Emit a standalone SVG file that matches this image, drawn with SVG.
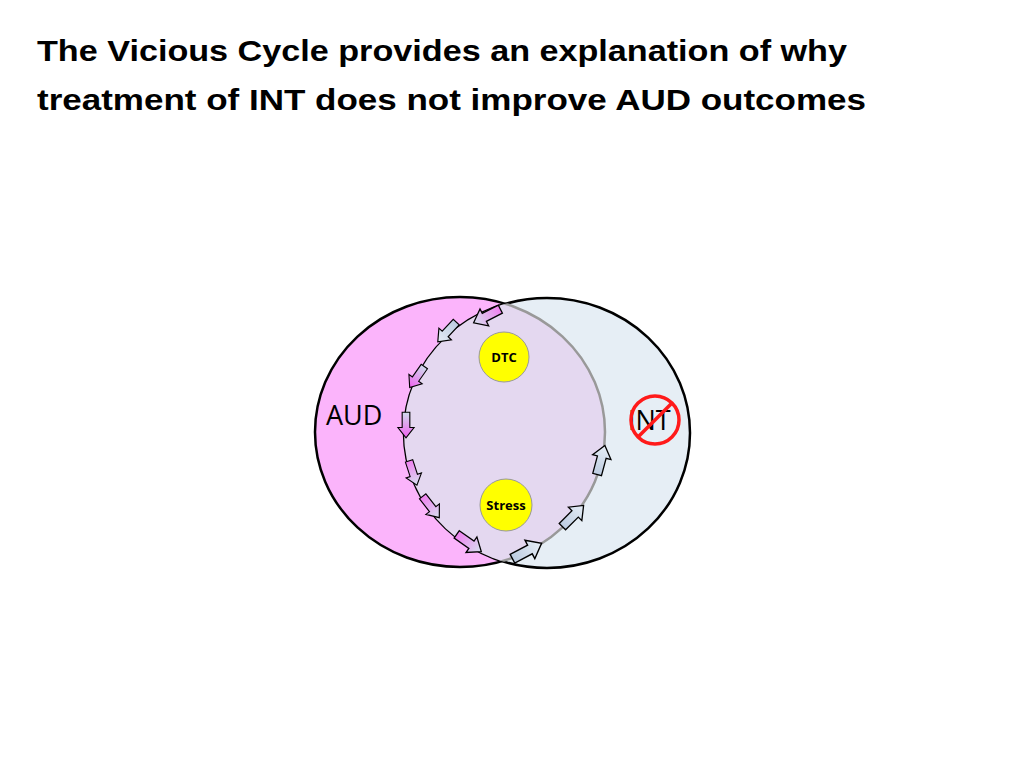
<svg xmlns="http://www.w3.org/2000/svg" width="1024" height="768" viewBox="0 0 1024 768">
<defs>
<linearGradient id="gp" x1="0" y1="0" x2="1" y2="0"><stop offset="0" stop-color="#cfdcec"/><stop offset="1" stop-color="#f060f0"/></linearGradient>
<linearGradient id="gb" x1="0" y1="0" x2="1" y2="0"><stop offset="0" stop-color="#bccbe0"/><stop offset="1" stop-color="#e6eef6"/></linearGradient>
<linearGradient id="gt" x1="0" y1="0" x2="1" y2="0"><stop offset="0" stop-color="#f080f0"/><stop offset="1" stop-color="#d6e0ee"/></linearGradient>
<path id="arr" d="M-15,-4.5 H3 V-9.5 L15,0 L3,9.5 V4.5 H-15 Z"/>
<clipPath id="clipAud"><ellipse cx="460" cy="432" rx="145" ry="135"/></clipPath>
</defs>
<style>
.t{font-family:"Liberation Sans",Arial,sans-serif;font-weight:bold;font-size:30px;fill:#000}
.lbl{font-family:"Open Sans","Liberation Sans",sans-serif;fill:#000}
.a use{stroke:#000;stroke-width:1.3}
</style>
<g id="title">
<text class="t" x="37" y="61" textLength="810" lengthAdjust="spacingAndGlyphs">The Vicious Cycle provides an explanation of why</text>
<text class="t" x="37" y="110" textLength="829" lengthAdjust="spacingAndGlyphs">treatment of INT does not improve AUD outcomes</text>
</g>
<g id="aud">
<ellipse cx="460" cy="432" rx="145" ry="135" fill="#fbb4fb" stroke="#000" stroke-width="2.5"/>
</g>
<g id="int">
<ellipse cx="547" cy="433" rx="143" ry="135" fill="#e6eef5" stroke="#000" stroke-width="2.5"/>
<ellipse cx="547" cy="433" rx="143" ry="135" fill="#e4d8f0" clip-path="url(#clipAud)" stroke="none"/>
<ellipse cx="460" cy="432" rx="145" ry="135" fill="none" stroke="#999" stroke-width="2.5" clip-path="url(#clipInt)"/>
</g>
<defs><clipPath id="clipInt"><ellipse cx="547" cy="433" rx="143" ry="135"/></clipPath></defs>
<g id="labels">
<text class="lbl" x="326" y="425" font-size="27">AUD</text>
<text class="lbl" x="628" y="430" font-size="27">INT</text>
<circle cx="655" cy="420" r="24" fill="none" stroke="#ff1a1a" stroke-width="3.5"/>
<line x1="672" y1="403" x2="638" y2="437" stroke="#ff1a1a" stroke-width="3.5"/>
</g>
<g id="dtc">
<circle cx="504" cy="357" r="25" fill="#ffff00" stroke="#999" stroke-width="1"/>
<text class="lbl" x="504" y="362" font-size="13" font-weight="bold" text-anchor="middle">DTC</text>
</g>
<g id="stress">
<circle cx="506" cy="505" r="26" fill="#ffff00" stroke="#999" stroke-width="1"/>
<text class="lbl" x="506" y="510" font-size="13" font-weight="bold" text-anchor="middle">Stress</text>
</g>
<g id="connectors" class="a">
<use href="#arr" fill="url(#gt)" transform="translate(487,316) rotate(153)"/>
<use href="#arr" fill="url(#gb)" transform="translate(447,332) rotate(133) scale(0.9)"/>
<use href="#arr" fill="url(#gp)" transform="translate(417,377) rotate(125) scale(0.85)"/>
<use href="#arr" fill="url(#gp)" transform="translate(406,425) rotate(90) scale(0.85)"/>
<use href="#arr" fill="url(#gb)" transform="translate(413,473) rotate(72) scale(0.85)" style="fill:url(#gt)"/>
<use href="#arr" fill="url(#gt)" transform="translate(431,507) rotate(52) scale(0.9)"/>
<use href="#arr" fill="url(#gt)" transform="translate(469,543) rotate(35)"/>
<use href="#arr" fill="url(#gb)" transform="translate(527,551) rotate(-28) scale(1.1)"/>
<use href="#arr" fill="url(#gb)" transform="translate(573,516) rotate(-45)"/>
<use href="#arr" fill="url(#gb)" transform="translate(601,460) rotate(-75)"/>
</g>
</svg>
